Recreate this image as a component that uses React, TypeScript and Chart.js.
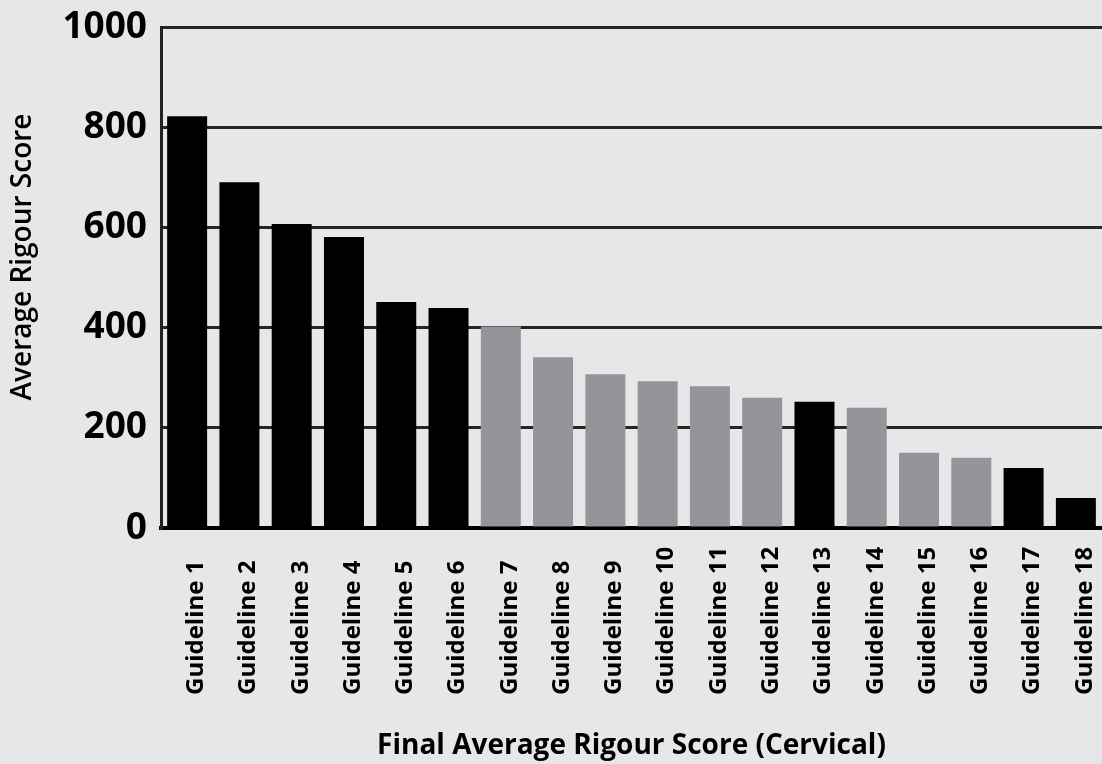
import React, { useEffect, useRef } from "react";
import { Chart, registerables } from "chart.js";

Chart.register(...registerables);

const categories = [
  "Guideline 1", "Guideline 2", "Guideline 3", "Guideline 4", "Guideline 5", "Guideline 6",
  "Guideline 7", "Guideline 8", "Guideline 9", "Guideline 10", "Guideline 11", "Guideline 12",
  "Guideline 13", "Guideline 14", "Guideline 15", "Guideline 16", "Guideline 17", "Guideline 18",
];
const scores = [822, 690, 607, 581, 451, 439, 402, 341, 307, 293, 283, 260, 252, 240, 150, 140, 120, 60];
// 1 = dark group, 0 = light group
const group = [1, 1, 1, 1, 1, 1, 0, 0, 0, 0, 0, 0, 1, 0, 0, 0, 1, 1];
const yTicks = [0, 200, 400, 600, 800, 1000];
const yTitle = "Average Rigour Score";
const xTitle = "Final Average Rigour Score (Cervical)";

const FONT = "'Open Sans', 'DejaVu Sans', sans-serif";

export default function App() {
  const ref = useRef<HTMLCanvasElement | null>(null);
  useEffect(() => {
    if (!ref.current) return;
    const bg = {
      id: "bg",
      beforeDraw(chart: any) {
        const { ctx, width, height } = chart;
        ctx.save();
        ctx.fillStyle = "#e6e7e8";
        ctx.fillRect(0, 0, width, height);
        ctx.restore();
      },
    };
    const texts = {
      id: "texts",
      afterDraw(chart: any) {
        const { ctx } = chart;
        const xs = chart.scales.x;
        ctx.save();
        ctx.fillStyle = "#000";
        // category labels (rotated, anchored at bottom)
        ctx.font = `700 24px ${FONT}`;
        ctx.textAlign = "left";
        ctx.textBaseline = "middle";
        categories.forEach((c, i) => {
          const px = xs.getPixelForTick(i);
          ctx.save();
          ctx.translate(px + 9, 695);
          ctx.rotate(-Math.PI / 2);
          ctx.fillText(c, 0, 0);
          ctx.restore();
        });
        // y title
        ctx.font = `600 28px ${FONT}`;
        ctx.textAlign = "center";
        ctx.save();
        ctx.translate(23, 257);
        ctx.rotate(-Math.PI / 2);
        ctx.fillText(yTitle, 0, 0);
        ctx.restore();
        // x title
        ctx.font = `700 28px ${FONT}`;
        ctx.fillText(xTitle, (chart.chartArea.left + chart.chartArea.right) / 2, 746);
        ctx.restore();
      },
    };
    const chart = new Chart(ref.current, {
      type: "bar",
      data: {
        labels: categories,
        datasets: [
          {
            data: scores,
            backgroundColor: group.map((g) => (g ? "#000000" : "#939598")),
            borderWidth: 0,
            categoryPercentage: 1,
            barPercentage: 0.765,
          },
        ],
      },
      options: {
        animation: false,
        responsive: false,
        devicePixelRatio: 1,
        layout: { padding: { top: 27, right: 0, left: 0, bottom: 0 } },
        plugins: { legend: { display: false }, tooltip: { enabled: false } },
        scales: {
          x: {
            grid: { display: false },
            border: { color: "#000", width: 4 },
            ticks: { display: false },
            afterFit(s: any) {
              s.height = 236;
            },
          },
          y: {
            min: 0,
            max: 1000,
            afterBuildTicks(s: any) {
              s.ticks = yTicks.map((v) => ({ value: v }));
            },
            grid: { color: "#262626", lineWidth: 3, drawTicks: false },
            border: { color: "#222", width: 3 },
            ticks: {
              color: "#000",
              padding: 14,
              font: { family: FONT, size: 37, weight: 700, lineHeight: 0.6 },
              callback: (v: any) => String(v),
            },
            afterFit(s: any) {
              s.width = 161;
            },
          },
        },
      },
      plugins: [bg, texts],
    });
    return () => chart.destroy();
  }, []);
  return (
    <div style={{ position: "fixed", left: 0, top: 0, width: 1102, height: 764 }}>
      <canvas ref={ref} width={1102} height={764} />
    </div>
  );
}
